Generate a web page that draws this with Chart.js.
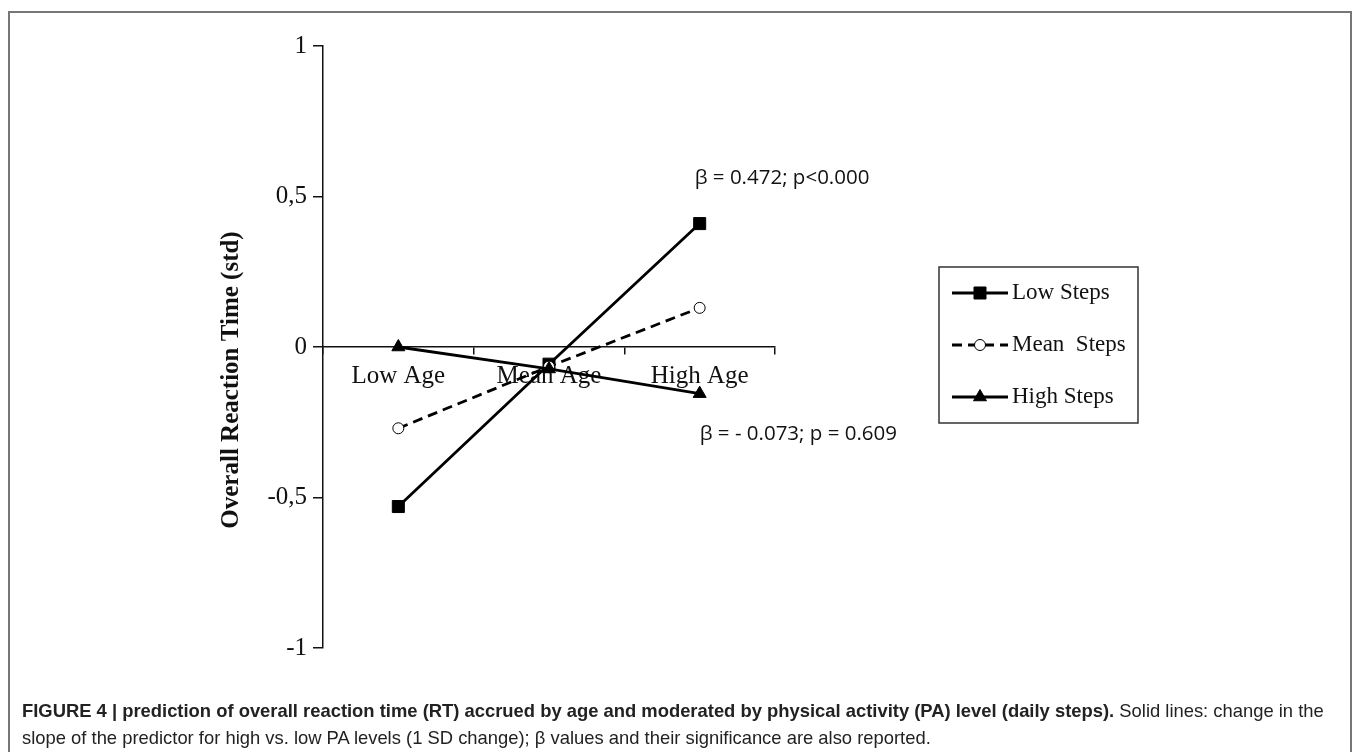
<!DOCTYPE html>
<html>
<head>
<meta charset="utf-8">
<script src="https://cdn.jsdelivr.net/npm/chart.js@4.4.1/dist/chart.umd.min.js"></script>
<style>
  body { margin: 0; background: #fff; }
  #frame { position: absolute; left: 8px; top: 11px; width: 1344px; height: 760px; border: 2px solid #777; box-sizing: border-box; }
  #wrap { position: absolute; left: 0; top: 0; width: 1360px; height: 752px; }
  #caption { position: absolute; left: 22px; top: 697px; font-family: "Liberation Sans", Arial, sans-serif; font-size: 18.4px; line-height: 27px; color: #222; white-space: nowrap; }
</style>
</head>
<body>
<div id="frame"></div>
<div id="wrap"><canvas id="chart" width="1360" height="752"></canvas></div>
<div id="caption"><b>FIGURE 4 | prediction of overall reaction time (RT) accrued by age and moderated by physical activity (PA) level (daily steps).</b> Solid lines: change in the<br>slope of the predictor for high vs. low PA levels (1 SD change); β values and their significance are also reported.</div>
<script>
const categories = ['Low Age', 'Mean Age', 'High Age'];
const seriesNames = ['Low Steps', 'Mean  Steps', 'High Steps'];
const lowSteps = [-0.53, -0.057, 0.41];
const meanSteps = [-0.27, -0.065, 0.13];
const highSteps = [0, -0.073, -0.155];
const yTickLabels = { '-1': '-1', '-0.5': '-0,5', '0': '0', '0.5': '0,5', '1': '1' };
const betaNotes = ['β = 0.472; p<0.000', 'β = - 0.073; p = 0.609'];

const serif = '"Liberation Serif", "Times New Roman", serif';

// legend, y title and beta notes drawn on top of the chart
const extras = {
  id: 'extras',
  afterDraw(chart) {
    const { ctx, scales: { x, y } } = chart;

    ctx.save();
    ctx.translate(232, 380);
    ctx.rotate(-Math.PI / 2);
    ctx.font = 'bold 25px ' + serif;
    ctx.fillStyle = '#111';
    ctx.textAlign = 'center';
    ctx.textBaseline = 'middle';
    ctx.fillText('Overall Reaction Time (std)', 0, 0);
    ctx.restore();

    ctx.save();
    ctx.font = '20.5px "Open Sans", sans-serif';
    ctx.fillStyle = '#111';
    ctx.textAlign = 'left';
    ctx.textBaseline = 'middle';
    ctx.fillText(betaNotes[0], x.getPixelForValue(2) - 5, y.getPixelForValue(0.56));
    ctx.fillText(betaNotes[1], x.getPixelForValue(2), y.getPixelForValue(-0.29));
    ctx.restore();

    // legend box
    ctx.save();
    ctx.strokeStyle = '#333';
    ctx.lineWidth = 1.5;
    ctx.strokeRect(939, 267, 199, 156);
    chart.data.datasets.forEach((ds, i) => {
      const ly = 293 + i * 52;
      ctx.save();
      ctx.strokeStyle = ds.borderColor;
      ctx.lineWidth = ds.borderWidth;
      ctx.setLineDash(ds.borderDash || []);
      ctx.beginPath();
      ctx.moveTo(952, ly);
      ctx.lineTo(1008, ly);
      ctx.stroke();
      ctx.setLineDash([]);
      ctx.fillStyle = ds.pointBackgroundColor;
      ctx.strokeStyle = ds.pointBorderColor;
      ctx.lineWidth = ds.pointBorderWidth;
      Chart.helpers.drawPoint(ctx, {
        pointStyle: ds.pointStyle, radius: ds.pointRadius, rotation: 0, borderWidth: ds.pointBorderWidth
      }, 980, ly);
      ctx.restore();
      ctx.font = '23px ' + serif;
      ctx.fillStyle = '#111';
      ctx.textAlign = 'left';
      ctx.textBaseline = 'middle';
      ctx.fillText(ds.label, 1012, ly);
    });
    ctx.restore();
  }
};

new Chart(document.getElementById('chart'), {
  type: 'line',
  data: {
    labels: categories,
    datasets: [{
      label: seriesNames[0],
      data: lowSteps,
      order: 2,
      borderColor: '#000',
      borderWidth: 2.8,
      pointStyle: 'rect',
      pointRadius: 8.5,
      pointBackgroundColor: '#000',
      pointBorderColor: '#000',
      pointBorderWidth: 1
    }, {
      label: seriesNames[1],
      data: meanSteps,
      order: 1,
      borderColor: '#000',
      borderWidth: 2.8,
      borderDash: [10, 6],
      pointStyle: 'circle',
      pointRadius: 5.5,
      pointBackgroundColor: '#fff',
      pointBorderColor: '#000',
      pointBorderWidth: 1
    }, {
      label: seriesNames[2],
      data: highSteps,
      order: 0,
      borderColor: '#000',
      borderWidth: 2.8,
      pointStyle: 'triangle',
      pointRadius: 7.5,
      pointBackgroundColor: '#000',
      pointBorderColor: '#000',
      pointBorderWidth: 1
    }]
  },
  options: {
    responsive: false,
    animation: false,
    layout: { padding: { left: 203, top: 46, right: 585, bottom: 104 } },
    plugins: { legend: { display: false }, tooltip: { enabled: false } },
    scales: {
      x: {
        type: 'category',
        position: { y: 0 },
        offset: true,
        grid: { offset: true, drawOnChartArea: false, drawTicks: true, tickLength: 7, color: '#111', lineWidth: 1.5 },
        border: { color: '#111', width: 1.5 },
        ticks: { font: { family: serif, size: 25 }, color: '#111', padding: 7 }
      },
      y: {
        min: -1,
        max: 1,
        ticks: {
          stepSize: 0.5,
          callback: v => yTickLabels[v],
          font: { family: serif, size: 25 },
          color: '#111',
          padding: 6
        },
        grid: { drawOnChartArea: false, tickLength: 10, color: '#111', lineWidth: 1.5 },
        border: { color: '#111', width: 1.5 },
        afterFit(scale) { scale.width = 120; }
      }
    }
  },
  plugins: [extras]
});
</script>
</body>
</html>
